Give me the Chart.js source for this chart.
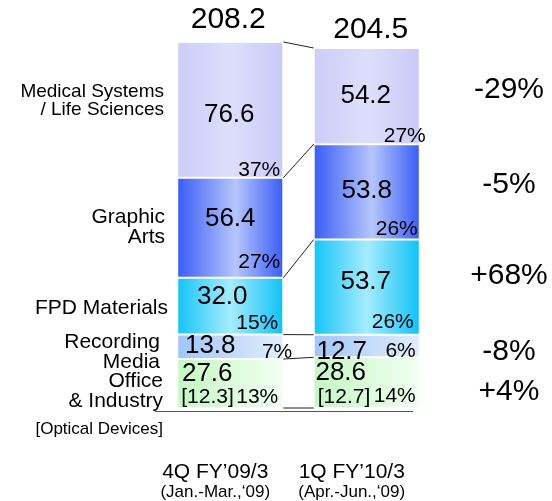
<!DOCTYPE html>
<html>
<head>
<meta charset="utf-8">
<script src="https://cdn.jsdelivr.net/npm/chart.js@4/dist/chart.umd.min.js"></script>
<style>
	html, body { margin: 0; padding: 0; background: #fff; }
	canvas { display: block; }
</style>
</head>
<body>
<canvas id="grafico" width="552" height="501"></canvas>
<script>
// dados
const periodos = ["4Q FY’09/3", "1Q FY’10/3"];
const subPeriodos = ["(Jan.-Mar.,‘09)", "(Apr.-Jun.,‘09)"];

// ordem de empilhamento: de baixo para cima
const office = [27.6, 28.6];
const recording = [13.8, 12.7];
const fpd = [32.0, 53.7];
const graphic = [56.4, 53.8];
const medical = [76.6, 54.2];

const officeShare = [13, 14];
const recordingShare = [7, 6];
const fpdShare = [15, 26];
const graphicShare = [27, 26];
const medicalShare = [37, 27];

const opticalDevices = [12.3, 12.7];
const totais = [208.2, 204.5];
const variacoes = ["+4%", "-8%", "+68%", "-5%", "-29%"];

const nomesSegmentos = [
	["Office", "& Industry"],
	["Recording", "Media"],
	["FPD Materials"],
	["Graphic", "Arts"],
	["Medical Systems", "/ Life Sciences"],
];

const series = [office, recording, fpd, graphic, medical];
const shares = [officeShare, recordingShare, fpdShare, graphicShare, medicalShare];

const CAT_PCT = 0.777;
const FONTE = "'Liberation Sans', Arial, sans-serif";

// gradientes horizontais (borda -> centro -> borda)
const cores = [
	[[0, "#c4f8c4"], [1, "#f2fff2"]],
	[[0, "#a0c6f8"], [1, "#e2eefd"]],
	[[0, "#14c4f6"], [0.5, "#a6ecff"], [1, "#10c2f6"]],
	[[0, "#3a5cf6"], [0.55, "#b6c6fc"], [1, "#3a5cf6"]],
	[[0, "#ccccf8"], [0.5, "#dedefc"], [1, "#cacaf8"]],
];

function meiaLargura(chart) {
	const x = chart.scales.x;
	return (x.width / periodos.length) * CAT_PCT / 2;
}

function preenchimento(stops) {
	return function (c) {
		const chart = c.chart;
		if (!chart.chartArea || !chart.scales.x) return stops[0][1];
		const cx = chart.scales.x.getPixelForValue(c.dataIndex);
		const h = meiaLargura(chart);
		const g = chart.ctx.createLinearGradient(cx - h, 0, cx + h, 0);
		stops.forEach((s) => g.addColorStop(s[0], s[1]));
		return g;
	};
}

// ajustes manuais das etiquetas (em px): [dxValor, dyValor, dxPct, dyPct]
const ajustes = [
	[[-23, -10, -5, -11], [-26, -10, -4, -12]],
	[[-20, -1, 9, -7], [-25, 6, -4, -6]],
	[[-8, -9, -5, -11], [-1, -5, -6, -13]],
	[[0, -9, -3, -16], [0, -1, -2, -10]],
	[[-1, 5, -3, -8], [-1, 0, 6, -8]],
];
const ajusteNomes = [[-3, 8], [-6, 5], [2, 2], [-1, -1], [-2, -9]];
const ajusteVariacoes = [9, 6, -11, -7, -6];

function texto(ctx, t, x, y, tamanho, alinhar) {
	ctx.font = tamanho + "px " + FONTE;
	ctx.textAlign = alinhar || "center";
	ctx.textBaseline = "middle";
	ctx.fillStyle = "#000";
	ctx.fillText(t, x, y);
}

const sobreposicao = {
	id: "sobreposicao",
	afterDatasetsDraw(chart) {
		const ctx = chart.ctx;
		const x = chart.scales.x;
		const y = chart.scales.y;
		const h = meiaLargura(chart);
		const c0 = x.getPixelForValue(0);
		const c1 = x.getPixelForValue(1);

		// acumulados
		const acum = periodos.map((_, i) => {
			const a = [0];
			series.forEach((s, k) => a.push(a[k] + s[i]));
			return a;
		});

		ctx.save();

		// linhas de ligação entre as barras
		ctx.strokeStyle = "#222";
		ctx.lineWidth = 1;
		for (let k = 0; k <= series.length; k++) {
			ctx.beginPath();
			ctx.moveTo(c0 + h, y.getPixelForValue(acum[0][k]));
			ctx.lineTo(c1 - h, y.getPixelForValue(acum[1][k]));
			ctx.stroke();
		}

		// linha de base
		const base = y.getPixelForValue(0) + 3.5;
		ctx.strokeStyle = "#555";
		ctx.beginPath();
		ctx.moveTo(155, base);
		ctx.lineTo(413, base);
		ctx.stroke();

		// valores e participações
		for (let i = 0; i < periodos.length; i++) {
			const cx = x.getPixelForValue(i);
			for (let k = 0; k < series.length; k++) {
				const topo = y.getPixelForValue(acum[i][k + 1]);
				const fundo = y.getPixelForValue(acum[i][k]);
				const meio = (topo + fundo) / 2;
				const a = ajustes[k][i];
				texto(ctx, series[k][i].toFixed(1), cx + a[0], meio + a[1], 26);
				texto(ctx, shares[k][i] + "%", cx + h + a[2], fundo + a[3], 21, "right");
				if (k == 0) {
					texto(ctx, "[" + opticalDevices[i].toFixed(1) + "]", cx - h + 4, fundo - 11, 21, "left");
				}
			}
			// totais
			const topoBarra = y.getPixelForValue(acum[i][series.length]);
			texto(ctx, totais[i].toFixed(1), cx + (i == 0 ? -2 : 4), topoBarra - (i == 0 ? 22 : 18), 30);

			// rótulos do eixo
			texto(ctx, periodos[i], cx - 15, 472, 21);
			texto(ctx, subPeriodos[i], cx - 15, 492, 17);
		}

		// nomes dos segmentos (à esquerda)
		for (let k = 0; k < series.length; k++) {
			const meio = (y.getPixelForValue(acum[0][k]) + y.getPixelForValue(acum[0][k + 1])) / 2;
			const linhas = nomesSegmentos[k];
			const tam = k == 4 ? 19 : 21;
			const passo = k == 4 ? 18 : 20;
			const [dx, dy] = ajusteNomes[k];
			linhas.forEach((l, j) => {
				texto(ctx, l, 166 + dx, meio + dy + (j - (linhas.length - 1) / 2) * passo, tam, "right");
			});
		}
		texto(ctx, "[Optical Devices]", 163, 429, 17, "right");

		// variações (à direita)
		for (let k = 0; k < series.length; k++) {
			const meio = (y.getPixelForValue(acum[1][k]) + y.getPixelForValue(acum[1][k + 1])) / 2;
			texto(ctx, variacoes[k], 509, meio + ajusteVariacoes[k], 30);
		}

		ctx.restore();
	},
};

const datasets = series.map((s, k) => ({
	label: nomesSegmentos[k].join(" "),
	data: s,
	backgroundColor: preenchimento(cores[k]),
	borderColor: "rgba(255,255,255,0.9)",
	borderWidth: 1,
	borderSkipped: false,
	barPercentage: 1,
	categoryPercentage: CAT_PCT,
}));

new Chart(document.getElementById("grafico"), {
	type: "bar",
	data: { labels: periodos, datasets: datasets },
	options: {
		responsive: false,
		devicePixelRatio: 1,
		animation: false,
		layout: { padding: { left: 162, right: 117, top: 9, bottom: 93 } },
		plugins: { legend: { display: false }, tooltip: { enabled: false } },
		scales: {
			x: { stacked: true, display: false },
			y: { stacked: true, display: false, min: 0, max: 225 },
		},
	},
	plugins: [sobreposicao],
});
</script>
</body>
</html>
